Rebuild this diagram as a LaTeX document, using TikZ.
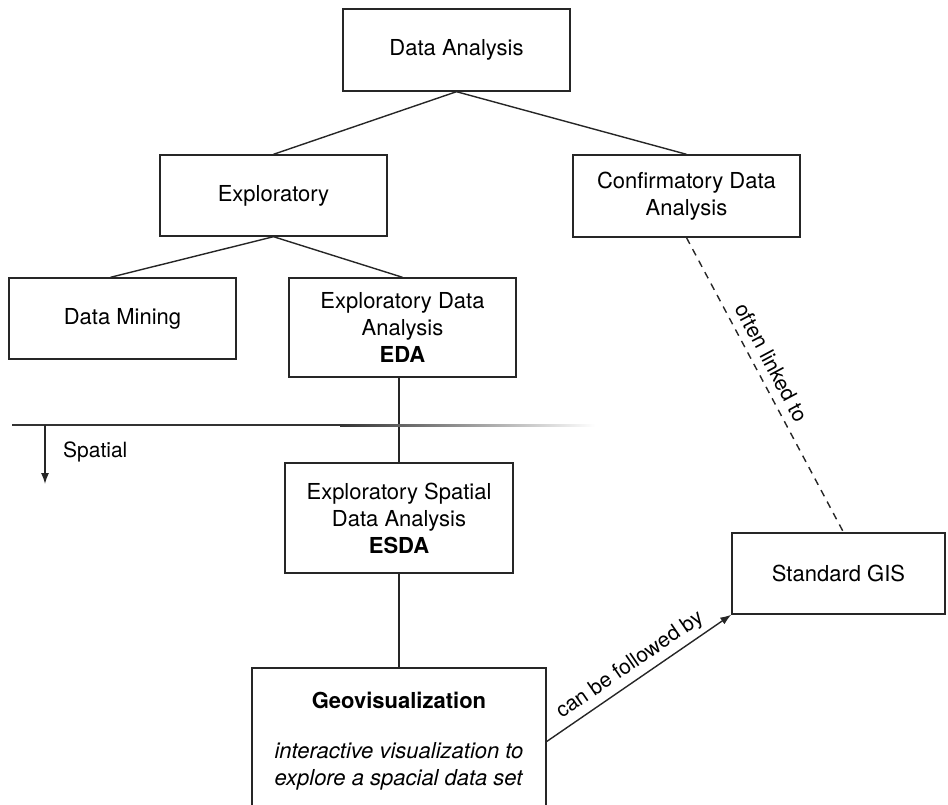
\documentclass[tikz,border=0pt]{standalone}
\usepackage{fontspec}
\setmainfont{TeX Gyre Heros}
\usetikzlibrary{arrows.meta}
\begin{document}
\begin{tikzpicture}[x=1pt,y=-1pt,
  box/.style={draw=black!85, line width=1.4pt, rectangle, inner sep=0pt, align=center, font=\fontsize{22}{27}\selectfont},
  link/.style={draw=black!85, line width=1.4pt},
  lbl/.style={font=\fontsize{21}{25}\selectfont, sloped, inner sep=3pt},
  tip/.style={-{Latex[length=11pt,width=8pt]}}]
\useasboundingbox (0,0) rectangle (948,805);
\clip (0,0) rectangle (948,805);
\node[box, minimum width=227pt, minimum height=82pt] (DA) at (456.5,50) {Data Analysis};
\node[box, minimum width=227pt, minimum height=81pt] (EXP) at (273.5,195.5) {Exploratory};
\node[box, minimum width=227pt, minimum height=82pt] (CDA) at (686.5,196) {Confirmatory Data\\Analysis};
\node[box, minimum width=227pt, minimum height=81pt] (DM) at (122.5,318.5) {Data Mining};
\node[box, minimum width=227pt, minimum height=99pt] (EDA) at (402.5,327.5) {Exploratory Data\\Analysis\\\textbf{EDA}};
\node[box, minimum width=228pt, minimum height=110pt] (ESDA) at (399,518) {Exploratory Spatial\\Data Analysis\\\textbf{ESDA}};
\node[box, minimum width=213pt, minimum height=81pt] (GIS) at (838.5,573.5) {Standard GIS};
\node[box, minimum width=294pt, minimum height=147pt] (GEO) at (399,741.5) {\textbf{Geovisualization}\\[23pt]\textit{interactive visualization to}\\\textit{explore a spacial data set}};
\draw[link] (DA.south) -- (EXP.north);
\draw[link] (DA.south) -- (CDA.north);
\draw[link] (EXP.south) -- ([xshift=-12pt]DM.north);
\draw[link] (EXP.south) -- (EDA.north);
\draw[link] (ESDA.north |- EDA.south) -- (ESDA.north);
\draw[link] (ESDA.south) -- (GEO.north);
\draw[link, dash pattern=on 7pt off 6pt] (CDA.south) -- node[lbl, above=5pt, pos=0.45] {often linked to} ([xshift=5pt]GIS.north);
\draw[link, tip] (GEO.east) -- node[lbl, above=2pt] {can be followed by} (GIS.south west);
% spatial divider
\fill[black!80] (12,424) rectangle (340,426.2);
\shade[left color=black!80, right color=white] (340,424) rectangle (595,426.2);
\coordinate (sp) at (45,425);
\coordinate (spend) at (45,484);
\draw[link, tip] (sp) -- (spend);
\node[font=\fontsize{21}{25}\selectfont, anchor=west, inner sep=0pt] (SPL) at (63,452) {Spatial};
\end{tikzpicture}
\end{document}
